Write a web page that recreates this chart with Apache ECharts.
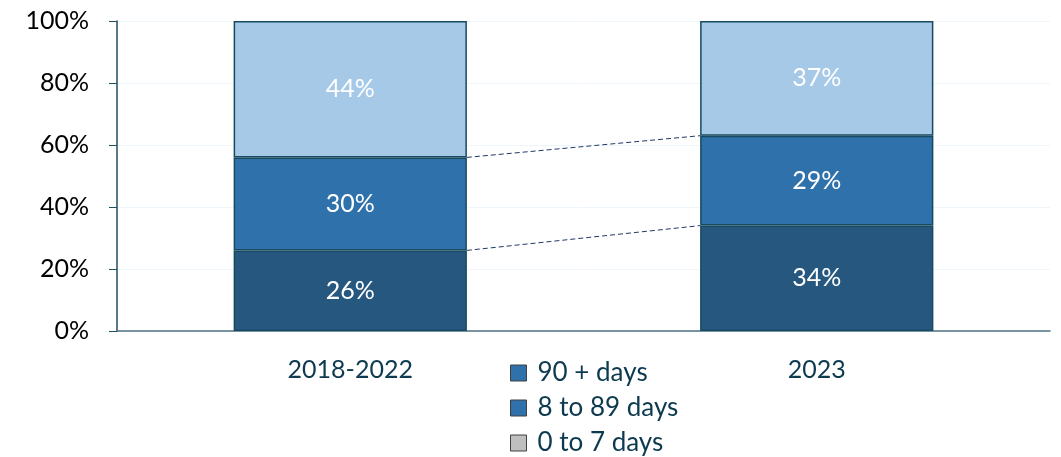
<!DOCTYPE html>
<html><head><meta charset="utf-8">
<script src="https://cdn.jsdelivr.net/npm/echarts@6/dist/echarts.min.js"></script>
<style>html,body{margin:0;padding:0;background:#fff}#c{width:1061px;height:457px}</style>
</head><body><div id="c"></div>
<script>
const categories = ['2018-2022', '2023'];
const seriesNames = ['0 to 7 days', '8 to 89 days', '90 + days'];
const bottomValues = [26, 34];
const middleValues = [30, 29];
const topValues = [44, 37];
const yTicks = [0, 20, 40, 60, 80, 100];
const legendOrder = ['90 + days', '8 to 89 days', '0 to 7 days'];

const colors = ['#26577F', '#2E71AB', '#A6C9E7'];
const legendColors = {'90 + days': '#2E71AB', '8 to 89 days': '#2E71AB', '0 to 7 days': '#BFBFBF'};
const border = '#174A60';
const font = 'Lato';

const valuesList = [bottomValues, middleValues, topValues];
const barSeries = valuesList.map((vals, i) => ({
  name: seriesNames[i], type: 'bar', stack: 's', barWidth: '50%',
  data: vals,
  itemStyle: {color: colors[i], borderColor: border, borderWidth: 1.5},
  label: {show: true, position: 'inside', color: '#fff', fontSize: 25, fontFamily: font,
          formatter: p => p.value + '%'},
  emphasis: {disabled: true}
}));

const connectors = [
  [bottomValues[0], bottomValues[1]],
  [bottomValues[0] + middleValues[0], bottomValues[1] + middleValues[1]]
];

const connectorSeries = {
  type: 'custom', name: 'connector', silent: true, z: 5,
  data: connectors,
  renderItem: function (params, api) {
    const y0 = api.value(0), y1 = api.value(1);
    const bw = api.size([1, 0])[0] * 0.5;
    const p0 = api.coord([0, y0]);
    const p1 = api.coord([1, y1]);
    return {
      type: 'line',
      shape: {x1: p0[0] + bw / 2, y1: p0[1], x2: p1[0] - bw / 2, y2: p1[1]},
      style: {stroke: '#1F3864', lineWidth: 1, lineDash: [5, 3]}
    };
  },
  encode: {y: [0, 1]}
};

const chart = echarts.init(document.getElementById('c'));
chart.setOption({
  animation: false,
  textStyle: {fontFamily: font},
  grid: {left: 117, right: 11, top: 21, bottom: 126},
  legend: {
    orient: 'vertical', left: 505, top: 355, height: 100, itemWidth: 16, itemHeight: 16, itemGap: 9,
    icon: 'rect',
    data: legendOrder.map(n => ({name: n, itemStyle: {color: legendColors[n], borderColor: '#404040', borderWidth: 1}})),
    textStyle: {fontSize: 26, lineHeight: 26, color: '#0E3A50', fontFamily: font, padding: [0, 0, 0, 6]},
    selectedMode: false
  },
  xAxis: {
    type: 'category', data: categories,
    axisLine: {lineStyle: {color: '#4E7382', width: 1.5}},
    axisTick: {show: false},
    axisLabel: {fontSize: 25, color: '#0E3A50', margin: 26, fontFamily: font}
  },
  yAxis: {
    type: 'value', min: 0, max: 100, interval: 20,
    axisLine: {show: true, lineStyle: {color: '#1F4E5F', width: 1.5}},
    axisTick: {show: true, inside: false, length: 8, lineStyle: {color: '#1F4E5F'}},
    splitLine: {lineStyle: {color: '#EEF5FB', width: 1}},
    axisLabel: {fontSize: 25, color: '#000', margin: 28, fontFamily: font,
                formatter: v => yTicks.includes(v) ? v + '%' : ''}
  },
  series: [...barSeries, connectorSeries]
});
</script></body></html>
